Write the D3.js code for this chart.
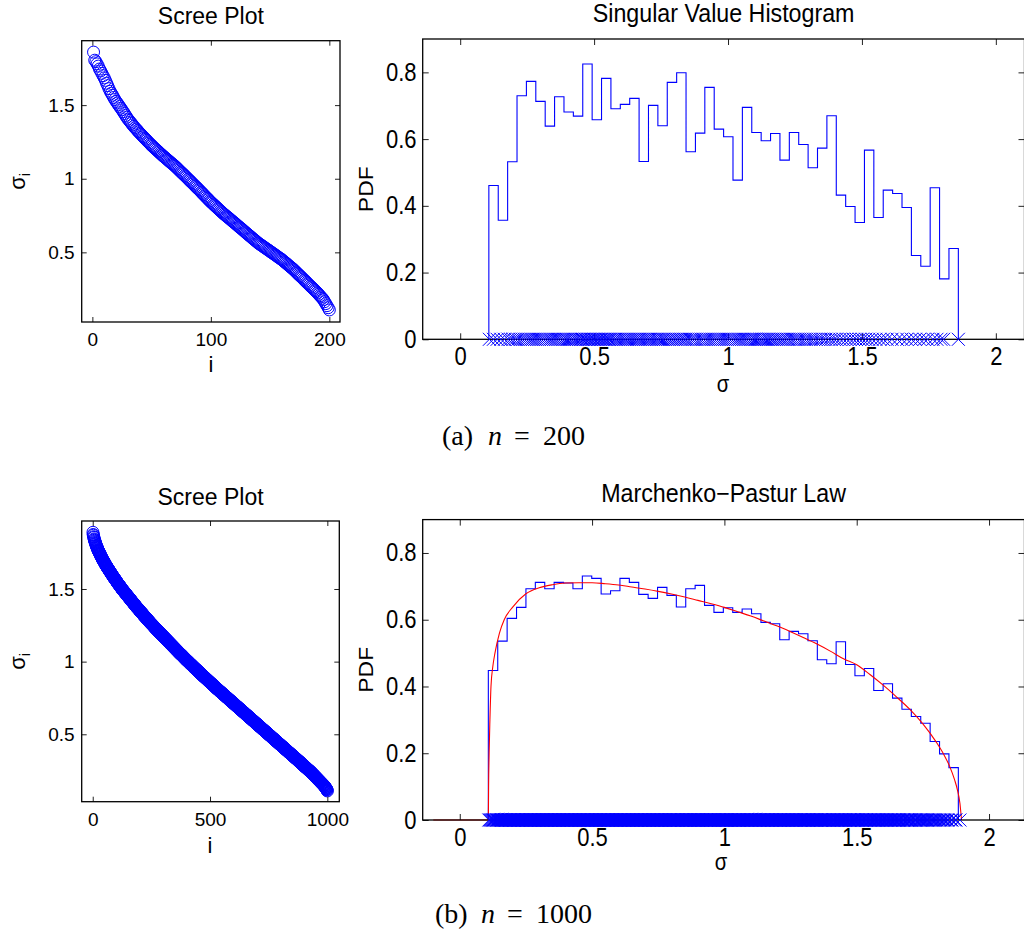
<!DOCTYPE html>
<html>
<head>
<meta charset="utf-8">
<script src="https://cdn.jsdelivr.net/npm/d3@7"></script>
<style>
  html, body { margin: 0; padding: 0; background: #fff; }
  svg { display: block; }
  text { font-family: "Liberation Sans", Arial, Helvetica, sans-serif; fill: #000; }
  .cap { font-family: "Liberation Serif", "Times New Roman", serif; }
</style>
</head>
<body>
<div id="root"></div>
<script>

// ---------- data ----------

// (a) n = 200 : sorted singular values (scree plot + x markers)
const sigma200 = [
  1.860,1.805,1.795,1.780,1.765,1.745,1.732,1.716,1.700,1.685,
  1.668,1.649,1.632,1.612,1.594,1.580,1.567,1.552,1.538,1.525,
  1.514,1.502,1.491,1.479,1.468,1.455,1.443,1.430,1.418,1.405,
  1.396,1.385,1.376,1.365,1.355,1.346,1.337,1.328,1.319,1.310,
  1.302,1.293,1.285,1.276,1.268,1.260,1.251,1.243,1.235,1.226,
  1.219,1.211,1.204,1.197,1.189,1.182,1.174,1.167,1.160,1.152,
  1.146,1.139,1.132,1.125,1.118,1.111,1.104,1.098,1.091,1.084,
  1.076,1.068,1.060,1.052,1.044,1.037,1.029,1.021,1.013,1.005,
  0.997,0.989,0.981,0.973,0.965,0.957,0.949,0.941,0.933,0.925,
  0.917,0.908,0.900,0.892,0.883,0.875,0.867,0.859,0.850,0.842,
  0.835,0.827,0.820,0.812,0.805,0.797,0.790,0.782,0.775,0.767,
  0.760,0.754,0.747,0.740,0.734,0.727,0.720,0.713,0.707,0.700,
  0.693,0.686,0.679,0.672,0.666,0.659,0.652,0.645,0.638,0.631,
  0.624,0.617,0.611,0.604,0.597,0.590,0.583,0.577,0.570,0.563,
  0.557,0.552,0.546,0.541,0.535,0.529,0.524,0.518,0.513,0.507,
  0.501,0.496,0.490,0.484,0.479,0.473,0.467,0.461,0.456,0.450,
  0.443,0.436,0.430,0.423,0.416,0.409,0.402,0.396,0.389,0.382,
  0.374,0.366,0.358,0.350,0.342,0.335,0.327,0.319,0.311,0.303,
  0.295,0.287,0.279,0.271,0.264,0.256,0.248,0.240,0.232,0.224,
  0.215,0.206,0.197,0.188,0.179,0.165,0.152,0.138,0.124,0.109
];

// (a) histogram: 50 bins between these limits, bar heights (PDF)
const histRange200 = [0.107, 1.860];
const hist200 = [
  0.461,0.357,0.532,0.730,0.773,0.713,0.639,0.727,0.681,0.669,
  0.825,0.658,0.782,0.691,0.704,0.722,0.533,0.701,0.640,0.770,
  0.799,0.562,0.618,0.755,0.630,0.607,0.477,0.695,0.620,0.595,
  0.617,0.537,0.620,0.584,0.514,0.573,0.670,0.432,0.398,0.350,
  0.567,0.365,0.447,0.437,0.395,0.251,0.219,0.454,0.181,0.272
];

// (b) n = 1000 : singular values read at 0.005 resolution, as level + how many
const sigma1000Levels = [
  1.890,1.885,1.880,1.875,1.870,1.865,1.860,1.855,1.850,1.845,1.840,1.835,1.830,1.825,1.820,1.815,1.810,1.805,1.800,1.795,
  1.790,1.785,1.780,1.775,1.770,1.765,1.760,1.755,1.750,1.745,1.740,1.735,1.730,1.725,1.720,1.715,1.710,1.705,1.700,1.695,
  1.690,1.685,1.680,1.675,1.670,1.665,1.660,1.655,1.650,1.645,1.640,1.635,1.630,1.625,1.620,1.615,1.610,1.605,1.600,1.595,
  1.590,1.585,1.580,1.575,1.570,1.565,1.560,1.555,1.550,1.545,1.540,1.535,1.530,1.525,1.520,1.515,1.510,1.505,1.500,1.495,
  1.490,1.485,1.480,1.475,1.470,1.465,1.460,1.455,1.450,1.445,1.440,1.435,1.430,1.425,1.420,1.415,1.410,1.405,1.400,1.395,
  1.390,1.385,1.380,1.375,1.370,1.365,1.360,1.355,1.350,1.345,1.340,1.335,1.330,1.325,1.320,1.315,1.310,1.305,1.300,1.295,
  1.290,1.285,1.280,1.275,1.270,1.265,1.260,1.255,1.250,1.245,1.240,1.235,1.230,1.225,1.220,1.215,1.210,1.205,1.200,1.195,
  1.190,1.185,1.180,1.175,1.170,1.165,1.160,1.155,1.150,1.145,1.140,1.135,1.130,1.125,1.120,1.115,1.110,1.105,1.100,1.095,
  1.090,1.085,1.080,1.075,1.070,1.065,1.060,1.055,1.050,1.045,1.040,1.035,1.030,1.025,1.020,1.015,1.010,1.005,1.000,0.995,
  0.990,0.985,0.980,0.975,0.970,0.965,0.960,0.955,0.950,0.945,0.940,0.935,0.930,0.925,0.920,0.915,0.910,0.905,0.900,0.895,
  0.890,0.885,0.880,0.875,0.870,0.865,0.860,0.855,0.850,0.845,0.840,0.835,0.830,0.825,0.820,0.815,0.810,0.805,0.800,0.795,
  0.790,0.785,0.780,0.775,0.770,0.765,0.760,0.755,0.750,0.745,0.740,0.735,0.730,0.725,0.720,0.715,0.710,0.705,0.700,0.695,
  0.690,0.685,0.680,0.675,0.670,0.665,0.660,0.655,0.650,0.645,0.640,0.635,0.630,0.625,0.620,0.615,0.610,0.605,0.600,0.595,
  0.590,0.585,0.580,0.575,0.570,0.565,0.560,0.555,0.550,0.545,0.540,0.535,0.530,0.525,0.520,0.515,0.510,0.505,0.500,0.495,
  0.490,0.485,0.480,0.475,0.470,0.465,0.460,0.455,0.450,0.445,0.440,0.435,0.430,0.425,0.420,0.415,0.410,0.405,0.400,0.395,
  0.390,0.385,0.380,0.375,0.370,0.365,0.360,0.355,0.350,0.345,0.340,0.335,0.330,0.325,0.320,0.315,0.310,0.305,0.300,0.295,
  0.290,0.285,0.280,0.275,0.270,0.265,0.260,0.255,0.250,0.245,0.240,0.235,0.230,0.225,0.220,0.215,0.210,0.205,0.200,0.195,
  0.190,0.185,0.180,0.175,0.170,0.165,0.160,0.155,0.150,0.145,0.140,0.135,0.130,0.125,0.120,0.115,0.110
];
const sigma1000Counts = [
  1,0,0,1,1,0,1,1,0,1,1,1,1,1,1,1,1,1,1,1,
  2,1,1,1,1,2,2,1,1,2,2,1,1,2,2,1,1,2,2,2,
  2,1,2,2,1,2,2,2,2,2,2,2,2,2,2,2,2,2,2,2,
  2,2,2,2,3,2,2,2,2,2,2,3,2,2,3,2,2,2,2,3,
  3,2,2,3,3,2,2,3,3,2,2,3,3,2,2,3,3,2,2,3,
  3,2,2,3,3,3,3,2,2,3,3,3,3,2,2,3,3,3,3,2,
  3,3,3,2,3,3,3,3,3,3,2,3,3,3,3,3,3,3,3,3,
  3,3,3,3,3,3,3,3,3,3,3,3,3,3,3,3,3,3,3,3,
  3,3,3,3,3,3,3,3,4,3,3,3,3,3,3,3,3,4,3,3,
  3,3,4,3,3,3,3,4,3,3,4,3,3,3,3,4,3,3,4,3,
  4,3,3,4,3,3,4,3,3,4,4,3,3,3,3,4,4,3,3,4,
  4,3,3,4,4,3,3,4,4,3,3,4,4,3,3,4,4,3,3,4,
  4,3,3,4,4,3,3,4,4,3,3,4,4,3,3,4,4,3,3,4,
  4,3,3,4,4,3,3,4,4,3,3,4,4,3,3,4,4,3,3,4,
  4,3,3,4,4,3,3,4,4,3,3,4,4,3,3,4,4,3,3,4,
  4,3,3,4,4,3,3,4,4,3,3,4,4,3,3,4,4,3,3,3,
  4,3,3,4,4,3,3,4,4,3,3,3,3,3,3,3,3,3,3,3,
  3,3,3,3,3,3,3,3,3,2,3,2,2,2,2,1,1
];

// (b) histogram
const histRange1000 = [0.108, 1.884];
const hist1000 = [
  0.448,0.536,0.604,0.637,0.693,0.712,0.693,0.712,0.710,0.693,
  0.731,0.724,0.677,0.687,0.724,0.712,0.676,0.664,0.697,0.673,
  0.638,0.693,0.703,0.643,0.622,0.636,0.622,0.632,0.618,0.592,
  0.588,0.540,0.565,0.558,0.537,0.480,0.468,0.534,0.466,0.432,
  0.454,0.388,0.408,0.365,0.332,0.310,0.290,0.235,0.198,0.157
];

// (b) Marchenko-Pastur curve
const mpSigma = [
  -0.1,0.108,0.109,0.111,0.114,0.118,0.125,0.133,0.15,0.168,
  0.2,0.25,0.3,0.35,0.4,0.45,0.5,0.55,0.6,0.65,
  0.7,0.75,0.8,0.85,0.9,0.95,1.0,1.05,1.1,1.15,
  1.2,1.25,1.3,1.35,1.4,1.45,1.5,1.55,1.6,1.65,
  1.7,1.75,1.8,1.83,1.85,1.87,1.88,1.89,1.896
];
const mpPdf = [
  0,0,0.1,0.2,0.3,0.4,0.46,0.5,0.56,0.6,
  0.638,0.678,0.696,0.705,0.710,0.711,0.711,0.708,0.704,0.698,
  0.692,0.685,0.677,0.668,0.658,0.648,0.637,0.624,0.611,0.596,
  0.581,0.564,0.546,0.527,0.506,0.483,0.465,0.436,0.404,0.369,
  0.332,0.288,0.234,0.195,0.163,0.12,0.092,0.05,0
];

// tick values
const screeTicksY = [0.5, 1, 1.5];
const screeTicksX200 = [0, 100, 200];
const screeTicksX1000 = [0, 500, 1000];
const histTicksX = [0, 0.5, 1, 1.5, 2];
const histTicksY = [0, 0.2, 0.4, 0.6, 0.8];


// ---------- drawing ----------

const W = 1024, H = 937;
const blue = "#0000ff";

const svg = d3.select("#root")
  .append("svg")
  .attr("width", W)
  .attr("height", H);

const sigma1000 = d3.merge(sigma1000Levels.map((v, k) => d3.range(sigma1000Counts[k]).map(() => v)));

// box + inward ticks on all four sides, labels outside (matlab style)
const drawFrame = (g, x, y, c) => {
  const sq = c.squeeze;

  const bottomAxis = g.append("g")
    .attr("transform", `translate(0,${c.bottom})`)
    .call(d3.axisBottom(x).tickValues(c.xTicks).tickSizeInner(-c.tick).tickSizeOuter(0)
      .tickPadding(c.xPad).tickFormat(d => String(d)));
  const leftAxis = g.append("g")
    .attr("transform", `translate(${c.left},0)`)
    .call(d3.axisLeft(y).tickValues(c.yTicks).tickSizeInner(-c.tick).tickSizeOuter(0)
      .tickPadding(c.yPad).tickFormat(d => String(d)));
  g.append("g")
    .attr("transform", `translate(0,${c.top})`)
    .call(d3.axisTop(x).tickValues(c.xTicks).tickSizeInner(-c.tick).tickSizeOuter(0).tickFormat(""));
  g.append("g")
    .attr("transform", `translate(${c.right},0)`)
    .call(d3.axisRight(y).tickValues(c.yTicks).tickSizeInner(-c.tick).tickSizeOuter(0).tickFormat(""));

  g.selectAll(".domain").remove();
  g.selectAll(".tick line").attr("stroke", "#222").attr("stroke-width", 1);
  g.selectAll(".tick text")
    .attr("font-family", "Liberation Sans, Arial, sans-serif")
    .attr("font-size", c.fontSize + "px")
    .attr("fill", "#000");
  if (sq !== 1) {
    bottomAxis.selectAll("text").attr("transform", `scale(${sq},1)`);
    leftAxis.selectAll("text").attr("transform", `scale(${sq},1)`);
  }

  g.append("rect")
    .attr("x", c.left).attr("y", c.top)
    .attr("width", c.right - c.left).attr("height", c.bottom - c.top)
    .attr("fill", "none").attr("stroke", "#000").attr("stroke-width", 1.3);

  // title
  g.append("g")
    .attr("transform", `translate(${(c.left + c.right) / 2 + c.titleDx},${c.titleY}) scale(${c.titleSq},1)`)
    .append("text")
    .attr("text-anchor", "middle")
    .attr("font-size", c.titleSize + "px")
    .text(c.title);

  // x label
  g.append("g")
    .attr("transform", `translate(${c.xLabelX},${c.xLabelY}) scale(${sq},1)`)
    .append("text")
    .attr("text-anchor", "middle")
    .attr("font-size", c.labelSize + "px")
    .text(c.xLabel);

  // y label (rotated)
  const yl = g.append("g")
    .attr("transform", `translate(${c.yLabelX},${(c.top + c.bottom) / 2}) scale(${sq},1) rotate(-90)`)
    .append("text")
    .attr("text-anchor", "middle")
    .attr("font-size", c.labelSize + "px");
  if (c.yLabel === "sigma_i") {
    yl.append("tspan").text("σ");
    yl.append("tspan").attr("dy", "0.3em").attr("font-size", (c.labelSize * 0.7) + "px").text("i");
  } else {
    yl.text(c.yLabel);
  }
};

const drawScree = (c, values) => {
  const g = svg.append("g");
  const x = d3.scaleLinear().domain(c.xDomain).range([c.left, c.right]);
  const y = d3.scaleLinear().domain(c.yDomain).range([c.bottom, c.top]);

  g.append("g")
    .selectAll("circle")
    .data(values)
    .join("circle")
    .attr("cx", (d, i) => x(i + 1))
    .attr("cy", d => y(d))
    .attr("r", 6)
    .attr("fill", "none")
    .attr("stroke", blue)
    .attr("stroke-width", 1);

  drawFrame(g, x, y, c);
};

const drawHist = (c, heights, range, values, curve) => {
  const g = svg.append("g");
  const x = d3.scaleLinear().domain(c.xDomain).range([c.left, c.right]);
  const y = d3.scaleLinear().domain(c.yDomain).range([c.bottom, c.top]);

  // bin edges: equal-width bins over the sample range
  const edges = d3.range(heights.length + 1).map(k => range[0] + k * (range[1] - range[0]) / heights.length);
  const pts = [[edges[0], 0]]
    .concat(heights.map((h, k) => [edges[k], h]))
    .concat([[edges[heights.length], heights[heights.length - 1]], [edges[heights.length], 0]]);

  g.append("path")
    .datum(pts)
    .attr("fill", "none")
    .attr("stroke", blue)
    .attr("stroke-width", 1.1)
    .attr("d", d3.line().x(d => x(d[0])).y(d => y(d[1])).curve(d3.curveStepAfter));

  if (curve) {
    g.append("path")
      .datum(curve[0].map((s, k) => [s, curve[1][k]]))
      .attr("fill", "none")
      .attr("stroke", "#ff0000")
      .attr("stroke-width", 1.1)
      .attr("d", d3.line().x(d => x(d[0])).y(d => y(d[1])).curve(d3.curveMonotoneX));
  }

  drawFrame(g, x, y, c);

  // x markers at the singular values
  const s = 6.5;
  g.append("g")
    .selectAll("path")
    .data(values)
    .join("path")
    .attr("transform", d => `translate(${x(d)},${y(0)})`)
    .attr("d", `M${-s},${-s}L${s},${s}M${-s},${s}L${s},${-s}`)
    .attr("fill", "none")
    .attr("stroke", blue)
    .attr("stroke-width", 1);
};

const screeStyle = {
  tick: 5, fontSize: 19, squeeze: 1, xPad: 11, yPad: 7,
  titleSize: 23, titleSq: 1, labelSize: 22, titleDx: 0, yLabelX: 25
};
const histStyle = {
  tick: 6, fontSize: 25, squeeze: 0.88, xPad: 8, yPad: 7,
  titleSize: 25, titleSq: 0.93, labelSize: 23, titleDx: 0, yLabelX: 373
};

drawScree(Object.assign({}, screeStyle, {
  left: 81.7, right: 340, top: 40.7, bottom: 322,
  xDomain: [-9, 209], yDomain: [0.027, 1.9375],
  xTicks: screeTicksX200, yTicks: screeTicksY,
  title: "Scree Plot", titleY: 24, xLabel: "i", xLabelX: 211, xLabelY: 372, yLabel: "sigma_i"
}), sigma200);

drawHist(Object.assign({}, histStyle, {
  left: 422.7, right: 1024.5, top: 39, bottom: 339.3,
  xDomain: [-0.14, 2.107], yDomain: [0, 0.9],
  xTicks: histTicksX, yTicks: histTicksY,
  title: "Singular Value Histogram", titleY: 22, xLabel: "σ", xLabelX: 723, xLabelY: 392, yLabel: "PDF"
}), hist200, histRange200, sigma200, null);

drawScree(Object.assign({}, screeStyle, {
  left: 81.7, right: 339.3, top: 521, bottom: 801.7,
  xDomain: [-47, 1051], yDomain: [0.036, 1.968],
  xTicks: screeTicksX1000, yTicks: screeTicksY,
  title: "Scree Plot", titleY: 505, xLabel: "i", xLabelX: 210, xLabelY: 853, yLabel: "sigma_i"
}), sigma1000);

drawHist(Object.assign({}, histStyle, {
  left: 422.7, right: 1024.5, top: 519.6, bottom: 820,
  xDomain: [-0.14, 2.134], yDomain: [0, 0.9],
  xTicks: histTicksX, yTicks: histTicksY,
  title: "Marchenko−Pastur Law", titleY: 502, xLabel: "σ", xLabelX: 721, xLabelY: 870, yLabel: "PDF"
}), hist1000, histRange1000, sigma1000, [mpSigma, mpPdf]);

// sub-figure captions, pieces placed like the latex output
const caption = (x0, y0, tag, n) => {
  const t = svg.append("text")
    .attr("class", "cap")
    .attr("y", y0)
    .attr("font-size", "28px");
  t.append("tspan").attr("x", x0).text(`(${tag})`);
  t.append("tspan").attr("x", x0 + 46).attr("font-style", "italic").text("n");
  t.append("tspan").attr("x", x0 + 72).text("=");
  t.append("tspan").attr("x", x0 + 101).text(n);
};
caption(442, 445, "a", "200");
caption(435, 923, "b", "1000");

</script>
</body>
</html>
